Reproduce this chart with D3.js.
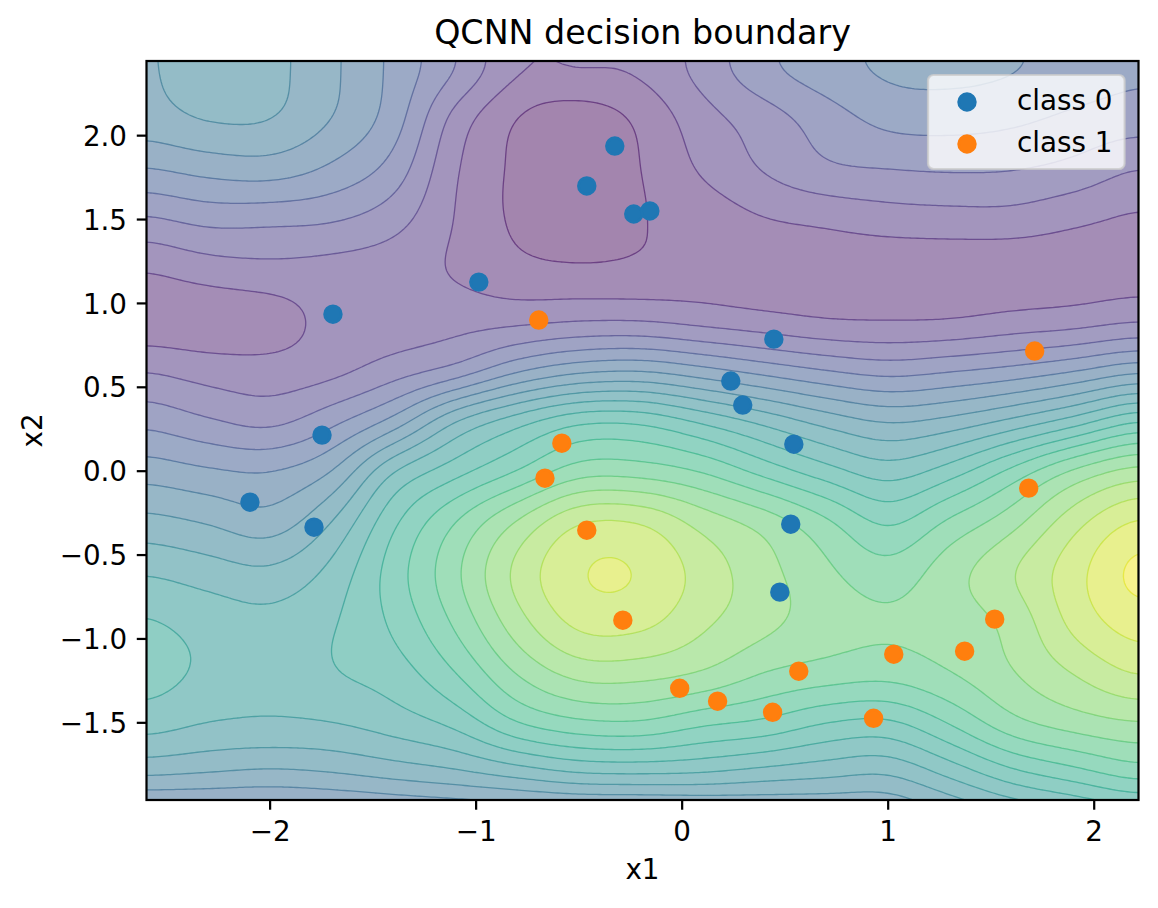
<!DOCTYPE html>
<html><head><meta charset="utf-8">
<script src="https://cdn.jsdelivr.net/npm/d3@7"></script>
<style>
body{margin:0;background:#fff}
svg{display:block}
text{font-family:"DejaVu Sans",sans-serif;fill:#000}
</style>
</head><body>
<svg id="chart" width="1158" height="908"></svg>
<script>
// ---- data ----
const gridX = [-2.6,-2.3,-2.0,-1.7,-1.4,-1.1,-0.8,-0.5,-0.2,0.1,0.4,0.7,1.0,1.3,1.6,1.9,2.2];
const gridY = [2.4,2.1,1.8,1.5,1.2,0.9,0.6,0.3,0.0,-0.3,-0.6,-0.9,-1.2,-1.5,-1.8,-2.1];
// estimated decision value (in contour-level units) at each grid node, rows follow gridY
const field = [
 [7.9, 8.5, 8.3, 7.2, 5.75,4.05,2.15,2.1, 2.2, 3.4, 4.8, 5.6, 6.2, 6.3, 6.1, 5.6, 5.2],
 [7.6, 8.1, 8.05,7.0, 5.5, 2.6, 0.95,0.4, 1.2, 2.6, 3.5, 4.5, 5.3, 5.4, 5.2, 4.8, 4.5],
 [5.95,6.35,6.5, 5.8, 4.6, 2.1, 0.8, 0.3, 1.0, 2.15,3.1, 3.85,4.0, 4.1, 4.05,3.7, 3.0],
 [3.85,4.3, 4.25,4.1, 3.4, 1.95,0.8, 0.3, 0.95,1.4, 1.95,2.2, 2.5, 2.6, 2.6, 2.2, 1.85],
 [2.05,2.5, 2.7, 2.6, 2.4, 1.9, 1.3, 1.15,1.2, 1.4, 1.3, 1.4, 1.3, 1.3, 1.3, 1.4, 1.5],
 [1.3, 1.3, 1.5, 2.3, 2.4, 2.6, 2.7, 2.9, 2.9, 2.6, 2.3, 2.0, 1.95,2.0, 2.3, 2.5, 2.85],
 [2.95,2.55,2.4, 2.7, 3.5, 4.3, 5.8, 6.7, 6.9, 6.3, 5.6, 5.0, 4.6, 4.9, 5.3, 5.9, 6.7],
 [4.7, 4.1, 3.7, 4.7, 6.3, 9.0, 10.6,11.8,11.8,10.8,9.7, 8.6, 7.9, 8.3, 9.2, 10.4,11.9],
 [6.55,6.15,6.0, 7.0, 10.0,11.6,13.0,14.5,14.5,13.9,12.6,11.4,10.5,11.5,13.3,15.2,16.4],
 [8.3, 7.9, 7.4, 9.0, 11.8,14.0,16.1,17.95,17.95,16.6,15.6,14.2,12.8,14.2,15.6,17.6,19.1],
 [9.9, 9.5, 9.2, 10.3,12.5,14.8,17.3,18.95,18.95,17.6,16.35,15.2,14.4,15.6,16.95,18.6,20.3],
 [11.1,10.6,10.3,10.9,12.2,14.2,16.6,18.3,18.3,17.2,16.3,15.5,15.15,15.5,16.3,18.3,19.5],
 [11.4,10.8,10.3,10.95,11.5,13.0,15.1,16.4,16.4,15.95,15.0,14.6,14.4,15.0,15.95,17.05,18.1],
 [10.45,10.0,9.9,10.0,10.5,11.3,13.0,13.8,13.9,13.2,12.8,12.0,11.8,13.1,14.7,15.5,15.95],
 [8.2, 8.0, 7.8, 8.0, 8.4, 8.8, 9.4, 10.0,10.1,10.0,9.6, 9.3, 9.1, 10.3,11.7,12.6,13.45],
 [4.8, 4.9, 5.0, 5.1, 5.3, 5.5, 5.6, 5.6, 5.6, 5.8, 6.2, 6.4, 6.6, 7.6, 8.6, 9.3, 10.0]
];
const levels = d3.range(0, 22);            // contour level boundaries
const class0X = [-0.327,-0.463,-0.235,-0.157,-0.987,-1.695,0.445,0.236,0.294,-1.748,0.542,-2.098,-1.787,0.527,0.474];
const class0Y = [1.938,1.700,1.533,1.551,1.127,0.936,0.787,0.537,0.394,0.215,0.161,-0.185,-0.334,-0.316,-0.721];
const class1X = [-0.696,1.711,-0.584,-0.666,-0.463,-0.288,1.682,1.517,1.371,1.027,0.566,-0.012,0.172,0.439,0.929];
const class1Y = [0.901,0.716,0.167,-0.042,-0.352,-0.888,-0.101,-0.882,-1.073,-1.091,-1.192,-1.294,-1.371,-1.437,-1.473];
const xTicks = [-2,-1,0,1,2];
const yTicks = [-1.5,-1.0,-0.5,0.0,0.5,1.0,1.5,2.0];
const seriesNames = ["class 0","class 1"];
const seriesColors = ["#1f77b4","#ff7f0e"];
const titleText = "QCNN decision boundary";

// ---- layout ----
const X0 = 146.5, X1 = 1138.5, Y0 = 61, Y1 = 800;
const FS = 27.78;
const svg = d3.select("#chart");
const x = d3.scaleLinear().domain([-2.6, 2.215]).range([X0, X1]);
const y = d3.scaleLinear().domain([-1.96, 2.445]).range([Y1, Y0]);

// ---- smooth resampling of the estimated field (Catmull-Rom + light blur) ----
const nGX = gridX.length, nGY = gridY.length;
function cr(p0,p1,p2,p3,t){return p1 + 0.5*t*(p2-p0 + t*(2*p0-5*p1+4*p2-p3 + t*(3*(p1-p2)+p3-p0)));}
function g(i,j){i=Math.max(0,Math.min(nGX-1,i)); j=Math.max(0,Math.min(nGY-1,j)); return field[j][i];}
function sample(xv, yv){
  let fx = (xv-gridX[0])/(gridX[1]-gridX[0]);
  let fy = (yv-gridY[0])/(gridY[1]-gridY[0]);
  fx = Math.max(0, Math.min(nGX-1-1e-9, fx));
  fy = Math.max(0, Math.min(nGY-1-1e-9, fy));
  const ix = Math.floor(fx), iy = Math.floor(fy), tx = fx-ix, ty = fy-iy;
  const r = [];
  for (let m=-1;m<=2;m++) r.push(cr(g(ix-1,iy+m),g(ix,iy+m),g(ix+1,iy+m),g(ix+2,iy+m),tx));
  return cr(r[0],r[1],r[2],r[3],ty);
}
const STEP = 3, PAD = 30;
const PX0 = X0-PAD, PY0 = Y0-PAD;
const NX = Math.ceil((X1-X0+2*PAD)/STEP)+1, NY = Math.ceil((Y1-Y0+2*PAD)/STEP)+1;
let vals = new Float64Array(NX*NY);
for (let j=0;j<NY;j++) for (let i=0;i<NX;i++){
  vals[i+j*NX] = sample(x.invert(PX0+i*STEP), y.invert(PY0+j*STEP));
}
// separable gaussian smoothing (render-side only)
(function blur(sigmaPx){
  const s = sigmaPx/STEP, R = Math.ceil(3*s);
  const k = d3.range(-R,R+1).map(d=>Math.exp(-d*d/(2*s*s)));
  const ks = d3.sum(k); for (let i=0;i<k.length;i++) k[i]/=ks;
  const tmp = new Float64Array(NX*NY);
  for (let j=0;j<NY;j++) for (let i=0;i<NX;i++){
    let a=0; for (let d=-R;d<=R;d++){const ii=Math.max(0,Math.min(NX-1,i+d)); a+=k[d+R]*vals[ii+j*NX];} tmp[i+j*NX]=a;
  }
  const out = new Float64Array(NX*NY);
  for (let j=0;j<NY;j++) for (let i=0;i<NX;i++){
    let a=0; for (let d=-R;d<=R;d++){const jj=Math.max(0,Math.min(NY-1,j+d)); a+=k[d+R]*tmp[i+jj*NX];} out[i+j*NX]=a;
  }
  vals = out;
})(10);
const contours = d3.contours().size([NX,NY]).thresholds(levels)(vals);
const toPx = c => [PX0+(c[0]-0.5)*STEP, PY0+(c[1]-0.5)*STEP];
function pathOf(mp){
  let s = "";
  for (const poly of mp.coordinates) for (const ring of poly){
    s += "M" + ring.map(c => toPx(c).map(v=>v.toFixed(2)).join(",")).join("L") + "Z";
  }
  return s;
}
const nBands = levels.length-1;
function blend(c, a){ const r = d3.rgb(c); return d3.rgb(r.r*a+255*(1-a), r.g*a+255*(1-a), r.b*a+255*(1-a)).formatHex(); }
const bandFill = k => blend(d3.interpolateViridis((k+0.5)/nBands), 0.5);

svg.append("rect").attr("width",1158).attr("height",908).attr("fill","#fff");
svg.append("defs").append("clipPath").attr("id","plotclip")
  .append("rect").attr("x",X0).attr("y",Y0).attr("width",X1-X0).attr("height",Y1-Y0);
const plot = svg.append("g").attr("clip-path","url(#plotclip)");
plot.append("g").selectAll("path").data(contours.filter(c=>c.value<levels[levels.length-1])).join("path")
  .attr("d", pathOf).attr("fill", d=>bandFill(d.value)).attr("fill-rule","evenodd")
  .attr("stroke", d=>bandFill(d.value)).attr("stroke-width",0.3);
plot.append("g").selectAll("path").data(contours.filter(c=>c.value>levels[0] && c.value<levels[levels.length-1])).join("path")
  .attr("d", pathOf).attr("fill","none")
  .attr("stroke", d=>d3.interpolateViridis(d.value/nBands)).attr("stroke-opacity",0.6).attr("stroke-width",1.3);

// ---- scatter ----
const pts = [
  class0X.map((v,i)=>({x:v,y:class0Y[i]})),
  class1X.map((v,i)=>({x:v,y:class1Y[i]}))
];
pts.forEach((arr,s)=>{
  svg.append("g").selectAll("circle").data(arr).join("circle")
    .attr("cx",d=>x(d.x)).attr("cy",d=>y(d.y)).attr("r",8.33)
    .attr("fill",seriesColors[s]).attr("stroke",seriesColors[s]).attr("stroke-width",2.78);
});

// ---- axes ----
svg.append("rect").attr("x",X0).attr("y",Y0).attr("width",X1-X0).attr("height",Y1-Y0)
  .attr("fill","none").attr("stroke","#000").attr("stroke-width",2.22);
const fmtX = v => (v<0?"\u2212":"") + Math.abs(v);
const fmtY = v => (v<0?"\u2212":"") + Math.abs(v).toFixed(1);
const xt = svg.append("g");
xTicks.forEach(t=>{
  xt.append("line").attr("x1",x(t)).attr("x2",x(t)).attr("y1",Y1).attr("y2",Y1+9.72).attr("stroke","#000").attr("stroke-width",2.22);
  xt.append("text").attr("x",x(t)).attr("y",840.5).attr("text-anchor","middle").attr("font-size",FS).text(fmtX(t));
});
const yt = svg.append("g");
yTicks.forEach(t=>{
  yt.append("line").attr("x1",X0-9.72).attr("x2",X0).attr("y1",y(t)).attr("y2",y(t)).attr("stroke","#000").attr("stroke-width",2.22);
  yt.append("text").attr("x",X0-19.44).attr("y",y(t)+10.1).attr("text-anchor","end").attr("font-size",FS).text(fmtY(t));
});
svg.append("text").attr("x",(X0+X1)/2).attr("y",879.3).attr("text-anchor","middle").attr("font-size",FS).text("x1");
svg.append("text").attr("transform",`translate(41.9,${(Y0+Y1)/2}) rotate(-90)`).attr("text-anchor","middle").attr("font-size",FS).text("x2");
svg.append("text").attr("x",(X0+X1)/2).attr("y",44.3).attr("text-anchor","middle").attr("font-size",33.33).text(titleText);

// ---- legend ----
const lg = svg.append("g");
lg.append("rect").attr("x",928).attr("y",75).attr("width",196.6).attr("height",94).attr("rx",5.6)
  .attr("fill","#fff").attr("fill-opacity",0.8).attr("stroke","#ccc").attr("stroke-opacity",0.8).attr("stroke-width",2.2);
seriesNames.forEach((n,i)=>{
  const cy = 102 + i*42;
  lg.append("circle").attr("cx",967).attr("cy",cy).attr("r",8.33).attr("fill",seriesColors[i]).attr("stroke",seriesColors[i]).attr("stroke-width",2.78);
  lg.append("text").attr("x",1017).attr("y",cy+7.5).attr("font-size",FS).text(n);
});
</script>
</body></html>
